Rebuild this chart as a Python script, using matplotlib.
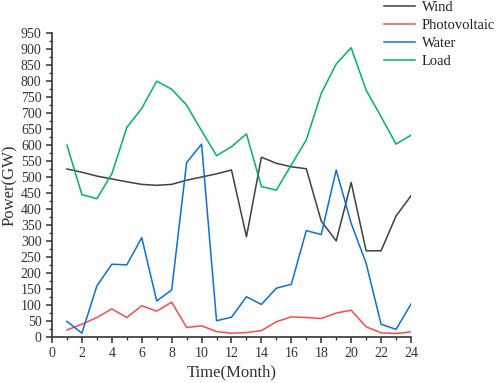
import matplotlib
matplotlib.use('Agg')
import matplotlib.pyplot as plt
from matplotlib.ticker import MultipleLocator

plt.rcParams['font.family'] = ['Liberation Serif', 'DejaVu Serif']

# 월별 데이터
months = list(range(1, 25))
wind = [525, 515, 503, 494, 485, 477, 474, 477, 490, 500, 510, 522,
        313, 562, 543, 532, 526, 362, 300, 483, 269, 269, 378, 441]
pv = [21, 39, 60, 87, 60, 97, 80, 108, 29, 34, 16, 11,
      13, 19, 47, 62, 60, 57, 74, 83, 31, 12, 10, 15]
water = [48, 11, 159, 227, 225, 310, 112, 146, 545, 603, 50, 61,
         125, 101, 152, 164, 332, 320, 522, 355, 230, 39, 23, 102]
load = [600, 445, 432, 510, 655, 715, 800, 775, 725, 645, 567, 595,
        635, 470, 459, 538, 616, 762, 854, 905, 772, 689, 603, 631]

fig = plt.figure(figsize=(4.98, 3.83), dpi=100)
ax = fig.add_axes([0.1044, 0.1209, 0.7209, 0.7921])

ax.plot(months, wind, color='#404040', lw=1.1, label='Wind')
ax.plot(months, pv, color='#ff4a4a', lw=1.1, label='Photovoltaic')
ax.plot(months, water, color='#0a6fe0', lw=1.1, label='Water')
ax.plot(months, load, color='#00b36b', lw=1.1, label='Load')

ax.set_xlim(0, 24)
ax.set_ylim(0, 950)
ax.xaxis.set_major_locator(MultipleLocator(2))
ax.xaxis.set_minor_locator(MultipleLocator(1))
ax.yaxis.set_major_locator(MultipleLocator(50))
ax.yaxis.set_minor_locator(MultipleLocator(25))

ax.spines['top'].set_visible(False)
ax.spines['right'].set_visible(False)
for s in ['left', 'bottom']:
    ax.spines[s].set_linewidth(1.2)
    ax.spines[s].set_color('#333333')
ax.tick_params(which='major', direction='out', length=4, width=1.1,
               labelsize=10, colors='#333333', labelcolor='#333333')
ax.tick_params(which='minor', direction='out', length=2, width=1.0, colors='#333333')

ax.set_xlabel('Time(Month)', fontsize=12, color='#333333', labelpad=3)
ax.set_ylabel('Power(GW)', fontsize=12, color='#333333', labelpad=2)

# 범례: 오른쪽 위, 테두리 없음
leg = fig.legend(loc='upper left', bbox_to_anchor=(384 / 498, 0.997), frameon=False,
                 fontsize=10.5, handlelength=2.1, handletextpad=0.5,
                 labelspacing=0.33, borderaxespad=0, borderpad=0)
for t in leg.get_texts():
    t.set_color('#222222')

fig.savefig('out.png', dpi=100)
